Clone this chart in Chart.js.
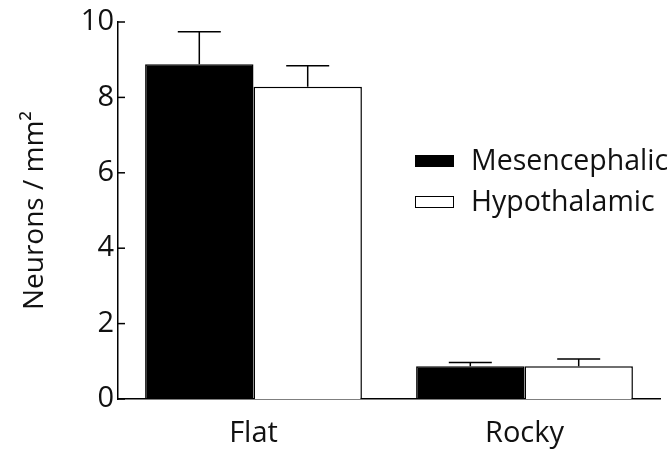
<!DOCTYPE html>
<html>
<head>
<meta charset="utf-8">
<script src="https://cdn.jsdelivr.net/npm/chart.js@4/dist/chart.umd.min.js"></script>
<style>
  html, body { margin: 0; padding: 0; background: #fff; }
  #wrap { width: 672px; height: 451px; }
</style>
</head>
<body>
<div id="wrap"><canvas id="c" width="672" height="451"></canvas></div>
<script>
const categories = ["Flat", "Rocky"];
const seriesNames = ["Mesencephalic", "Hypothalamic"];
const mesencephalic = [8.88, 0.87];
const mesencephalicErr = [0.86, 0.10];
const hypothalamic = [8.28, 0.87];
const hypothalamicErr = [0.56, 0.19];
const yTicks = [0, 2, 4, 6, 8, 10];

const FONT = "'Open Sans', 'DejaVu Sans', sans-serif";

const errorBarPlugin = {
  id: 'errorBars',
  afterDatasetsDraw(chart) {
    const ctx = chart.ctx;
    const y = chart.scales.y;
    ctx.save();
    ctx.strokeStyle = '#000';
    ctx.lineWidth = 1.5;
    chart.data.datasets.forEach((ds, i) => {
      const meta = chart.getDatasetMeta(i);
      meta.data.forEach((bar, j) => {
        const top = y.getPixelForValue(ds.data[j]);
        const errTop = y.getPixelForValue(ds.data[j] + ds.errors[j]);
        const x = bar.x;
        ctx.beginPath();
        ctx.moveTo(x, top);
        ctx.lineTo(x, errTop);
        ctx.moveTo(x - 21.5, errTop);
        ctx.lineTo(x + 21.5, errTop);
        ctx.stroke();
      });
    });
    ctx.restore();
  }
};

const inwardTicksPlugin = {
  id: 'inwardTicks',
  afterDraw(chart) {
    const ctx = chart.ctx;
    const y = chart.scales.y;
    const left = chart.chartArea.left;
    ctx.save();
    ctx.strokeStyle = '#000';
    ctx.lineWidth = 1.5;
    yTicks.forEach(v => {
      const py = y.getPixelForValue(v);
      ctx.beginPath();
      ctx.moveTo(left, py);
      ctx.lineTo(left + 7, py);
      ctx.stroke();
    });
    ctx.restore();
  }
};

const legendPlugin = {
  id: 'customLegend',
  afterDraw(chart) {
    const ctx = chart.ctx;
    const x0 = 415, boxW = 39, boxH = 12;
    const rows = [161, 202];
    ctx.save();
    ctx.font = "28.5px " + FONT;
    ctx.textBaseline = 'middle';
    chart.data.datasets.forEach((ds, i) => {
      const cy = rows[i];
      ctx.fillStyle = ds.backgroundColor;
      ctx.fillRect(x0, cy - boxH / 2, boxW, boxH);
      ctx.strokeStyle = '#000';
      ctx.lineWidth = 1;
      ctx.strokeRect(x0 + 0.5, cy - boxH / 2 + 0.5, boxW - 1, boxH - 1);
      ctx.fillStyle = '#111';
      ctx.fillText(ds.label, 471, cy + 1);
    });
    ctx.restore();
  }
};

new Chart(document.getElementById('c'), {
  type: 'bar',
  data: {
    labels: categories,
    datasets: [
      { label: seriesNames[0], data: mesencephalic, errors: mesencephalicErr,
        backgroundColor: '#000', borderColor: '#000', borderWidth: 1.5, borderSkipped: 'bottom' },
      { label: seriesNames[1], data: hypothalamic, errors: hypothalamicErr,
        backgroundColor: '#fff', borderColor: '#000', borderWidth: 1.5, borderSkipped: 'bottom' }
    ]
  },
  options: {
    responsive: false,
    animation: false,
    devicePixelRatio: 1,
    layout: { padding: { left: 0, top: 22, right: 12, bottom: 0 } },
    datasets: { bar: { categoryPercentage: 0.8, barPercentage: 1.0 } },
    plugins: { legend: { display: false }, tooltip: { enabled: false } },
    scales: {
      x: {
        grid: { display: false, drawTicks: false },
        border: { display: true, color: '#000', width: 1.5 },
        ticks: { color: '#111', font: { family: FONT, size: 29 }, padding: 17 },
        afterFit(scale) { scale.height = 52; }
      },
      y: {
        min: 0, max: 10,
        afterBuildTicks(scale) { scale.ticks = yTicks.map(v => ({ value: v })); },
        grid: { display: false, drawTicks: false },
        border: { display: true, color: '#000', width: 1.5 },
        ticks: { color: '#111', font: { family: FONT, size: 29 }, padding: 4 },
        title: { display: true, text: 'Neurons / mm²', color: '#111',
                 font: { family: FONT, size: 28 }, padding: { top: 18, bottom: 0 } },
        afterFit(scale) { scale.width = 118; }
      }
    }
  },
  plugins: [errorBarPlugin, inwardTicksPlugin, legendPlugin]
});
</script>
</body>
</html>
